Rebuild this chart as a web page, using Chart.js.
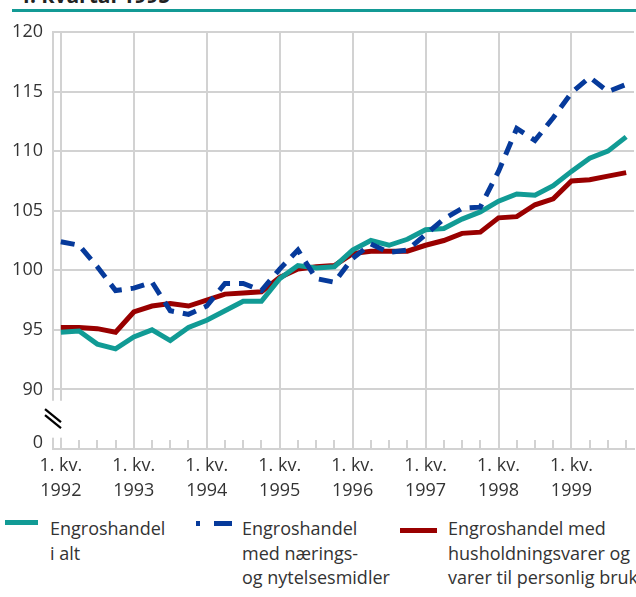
<!DOCTYPE html>
<html>
<head>
<meta charset="utf-8">
<script src="https://cdn.jsdelivr.net/npm/chart.js@4"></script>
<style>
  html, body { margin: 0; padding: 0; background: #fff; }
  body { width: 636px; height: 597px; position: relative; overflow: hidden; font-family: "Open Sans", sans-serif; color: #333; }
  #title { position: absolute; left: 18px; top: -19px; font-size: 21px; font-weight: bold; color: #222; white-space: nowrap; }
  #rule { position: absolute; left: 12px; top: 9px; width: 624px; height: 2.5px; background: #139a95; }
  #wrap { position: absolute; left: 0; top: 0; }
  .legend-text { position: absolute; top: 516px; font-size: 18px; line-height: 24.5px; white-space: pre; color: #333; }
  .mark { position: absolute; height: 5px; }
</style>
</head>
<body>
<div id="title">4. kvartal 1995</div>
<div id="rule"></div>
<div id="wrap"><canvas id="chart" width="636" height="510"></canvas></div>
<div id="legend"></div>
<script>
// quarterly index, 1. kv. 1992 - 4. kv. 1999
const years = [1992, 1993, 1994, 1995, 1996, 1997, 1998, 1999];
const quarters = years.flatMap(y => [1, 2, 3, 4].map(q => q + ". kv. " + y));

const seriesNames = [
  "Engroshandel\ni alt",
  "Engroshandel\nmed nærings-\nog nytelsesmidler",
  "Engroshandel med\nhusholdningsvarer og\nvarer til personlig bruk",
];

const totalValues = [
  94.8, 94.9, 93.8, 93.4, 94.4, 95.0, 94.1, 95.2,
  95.8, 96.6, 97.4, 97.4, 99.3, 100.4, 100.2, 100.3,
  101.7, 102.5, 102.1, 102.6, 103.4, 103.5, 104.3, 104.9,
  105.8, 106.4, 106.3, 107.1, 108.3, 109.4, 110.0, 111.2,
];
const foodValues = [
  102.4, 102.1, 100.3, 98.3, 98.5, 99.0, 96.6, 96.3,
  97.0, 98.9, 98.9, 98.3, 100.1, 101.7, 99.3, 99.0,
  101.0, 102.2, 101.5, 101.7, 103.0, 104.3, 105.2, 105.3,
  108.3, 111.9, 110.9, 112.8, 114.9, 116.2, 115.0, 115.6,
];
const householdValues = [
  95.2, 95.2, 95.1, 94.8, 96.5, 97.0, 97.2, 97.0,
  97.5, 98.0, 98.1, 98.2, 99.4, 100.1, 100.3, 100.4,
  101.4, 101.6, 101.6, 101.6, 102.1, 102.5, 103.1, 103.2,
  104.4, 104.5, 105.5, 106.0, 107.5, 107.6, 107.9, 108.2,
];

const yTicks = [90, 95, 100, 105, 110, 115, 120];
const breakTickLabel = "0";
const xTickTop = "1. kv.";

const TEAL = "#119b95";
const BLUE = "#063a9b";
const RED = "#990000";
const GRID = "#d2d2d2";

Chart.defaults.font.family = "'Open Sans', sans-serif";
Chart.defaults.font.size = 18;
Chart.defaults.color = "#333";

const toPoints = vals => vals.map((v, i) => ({ x: i, y: v }));

// small upward tick at every quarter on the x axis
const quarterTicks = {
  id: "quarterTicks",
  afterDatasetsDraw(chart) {
    const { ctx, chartArea, scales: { x } } = chart;
    ctx.save();
    ctx.strokeStyle = GRID;
    ctx.lineWidth = 2;
    quarters.forEach((q, i) => {
      const px = Math.round(x.getPixelForValue(i));
      ctx.beginPath();
      ctx.moveTo(px, chartArea.bottom);
      ctx.lineTo(px, chartArea.bottom - 9);
      ctx.stroke();
    });
    ctx.restore();
  }
};

// axis break between 0 and 90
const axisBreak = {
  id: "axisBreak",
  afterDraw(chart) {
    const { ctx, chartArea, scales: { y } } = chart;
    const l = chartArea.left;
    const top = y.getPixelForValue(89.05);
    const bot = y.getPixelForValue(85.95);
    const mid = y.getPixelForValue(87.5);
    ctx.save();
    ctx.fillStyle = "#fff";
    ctx.fillRect(l - 9, top, 21, bot - top);
    ctx.strokeStyle = "#000";
    ctx.lineWidth = 2.2;
    [-3, 3].forEach(d => {
      ctx.beginPath();
      ctx.moveTo(l - 8, mid - 7 + d);
      ctx.lineTo(l + 8, mid + 6 + d);
      ctx.stroke();
    });
    ctx.restore();
  }
};

new Chart(document.getElementById("chart"), {
  type: "line",
  data: {
    datasets: [
      { label: seriesNames[1], data: toPoints(foodValues), borderColor: BLUE, borderDash: [14, 9], order: 0 },
      { label: seriesNames[0], data: toPoints(totalValues), borderColor: TEAL, order: 1 },
      { label: seriesNames[2], data: toPoints(householdValues), borderColor: RED, order: 2 },
    ]
  },
  options: {
    responsive: false,
    animation: false,
    layout: { padding: { top: 32, right: 2, left: 0, bottom: 0 } },
    plugins: { legend: { display: false }, tooltip: { enabled: false } },
    elements: {
      line: { borderWidth: 5, tension: 0, fill: false, borderCapStyle: "butt" },
      point: { radius: 0 }
    },
    scales: {
      x: {
        type: "linear",
        min: -0.43,
        max: 31.43,
        afterBuildTicks: s => { s.ticks = years.map((y, k) => ({ value: k * 4 })); },
        ticks: {
          autoSkip: false,
          maxRotation: 0,
          padding: 4,
          font: { size: 18, lineHeight: 1.4 },
          callback: v => [xTickTop, String(years[Math.round(v / 4)])]
        },
        grid: { color: GRID, lineWidth: 2, drawTicks: false },
        border: { color: GRID, width: 2 },
        afterFit: s => { s.height = 61; }
      },
      y: {
        min: 85,
        max: 120,
        afterBuildTicks: s => {
          s.ticks = [{ value: 85.55 }].concat(yTicks.map(v => ({ value: v })));
        },
        ticks: {
          autoSkip: false,
          padding: 10,
          callback: v => v < yTicks[0] ? breakTickLabel : String(v)
        },
        grid: {
          color: c => (c.tick && c.tick.value < yTicks[0]) ? "rgba(0,0,0,0)" : GRID,
          lineWidth: 2,
          drawTicks: false
        },
        border: { color: GRID, width: 2 },
        afterFit: s => { s.width = 53; }
      }
    }
  },
  plugins: [quarterTicks, axisBreak]
});

// legend in the page below the chart
const legend = document.getElementById("legend");
function addText(left, text) {
  const d = document.createElement("div");
  d.className = "legend-text";
  d.style.left = left + "px";
  d.textContent = text;
  legend.appendChild(d);
}
function addMark(left, top, width, color) {
  const d = document.createElement("div");
  d.className = "mark";
  d.style.left = left + "px";
  d.style.top = top + "px";
  d.style.width = width + "px";
  d.style.background = color;
  legend.appendChild(d);
}
addMark(5, 520, 33, TEAL);
addText(50, seriesNames[0]);
addMark(196, 521, 4, BLUE);
addMark(214, 521, 18, BLUE);
addText(242, seriesNames[1]);
addMark(400, 528, 37, RED);
addText(448, seriesNames[2]);
</script>
</body>
</html>
